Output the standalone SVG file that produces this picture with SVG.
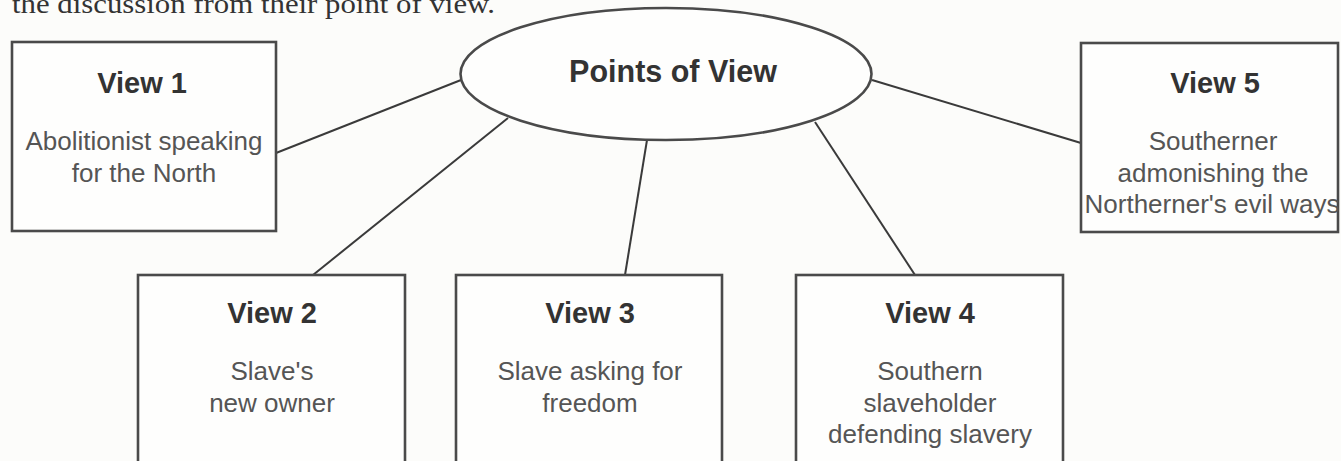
<svg xmlns="http://www.w3.org/2000/svg" width="1341" height="461" viewBox="0 0 1341 461">
<style>
.box{fill:#fefefd;stroke:#4a4a4a;stroke-width:2.6}
.conn line{stroke:#3a3a3a;stroke-width:2}
.title{font-family:"Liberation Sans",Arial,sans-serif;font-weight:bold;font-size:29px;fill:#333;text-anchor:middle}
.body{font-family:"Liberation Sans",Arial,sans-serif;font-size:26px;fill:#555;text-anchor:middle}
.top{font-family:"Liberation Serif","Times New Roman",serif;font-size:28px;fill:#333}
</style>
<rect width="1341" height="461" fill="#fcfcfa"/>
<text class="top" x="12" y="13" textLength="483" lengthAdjust="spacingAndGlyphs">the discussion from their point of view.</text>
<g id="connectors" class="conn">
<line x1="276" y1="153" x2="461" y2="80"/>
<line x1="508" y1="118" x2="313" y2="275"/>
<line x1="647" y1="140" x2="625" y2="275"/>
<line x1="815" y1="122" x2="915" y2="275"/>
<line x1="872" y1="80" x2="1081" y2="143"/>
</g>
<g id="center">
<ellipse class="box" cx="666" cy="74" rx="205.5" ry="66"/>
<text class="title" x="673" y="82" style="font-size:30.5px">Points of View</text>
</g>
<g id="view1">
<rect class="box" x="12" y="42" width="264" height="189"/>
<text class="title" x="142" y="93">View 1</text>
<text class="body" x="144" y="150">Abolitionist speaking</text>
<text class="body" x="144" y="182">for the North</text>
</g>
<g id="view2">
<rect class="box" x="138" y="275" width="267" height="200"/>
<text class="title" x="272" y="323">View 2</text>
<text class="body" x="272" y="380">Slave's</text>
<text class="body" x="272" y="412">new owner</text>
</g>
<g id="view3">
<rect class="box" x="456" y="275" width="266" height="200"/>
<text class="title" x="590" y="323">View 3</text>
<text class="body" x="590" y="380">Slave asking for</text>
<text class="body" x="590" y="412">freedom</text>
</g>
<g id="view4">
<rect class="box" x="796" y="275" width="267" height="200"/>
<text class="title" x="930" y="323">View 4</text>
<text class="body" x="930" y="380">Southern</text>
<text class="body" x="930" y="412">slaveholder</text>
<text class="body" x="930" y="443">defending slavery</text>
</g>
<g id="view5">
<rect class="box" x="1081" y="43" width="257" height="189"/>
<text class="title" x="1215" y="93">View 5</text>
<text class="body" x="1213" y="150">Southerner</text>
<text class="body" x="1213" y="182">admonishing the</text>
<text class="body" x="1212" y="213">Northerner's evil ways</text>
</g>
</svg>
